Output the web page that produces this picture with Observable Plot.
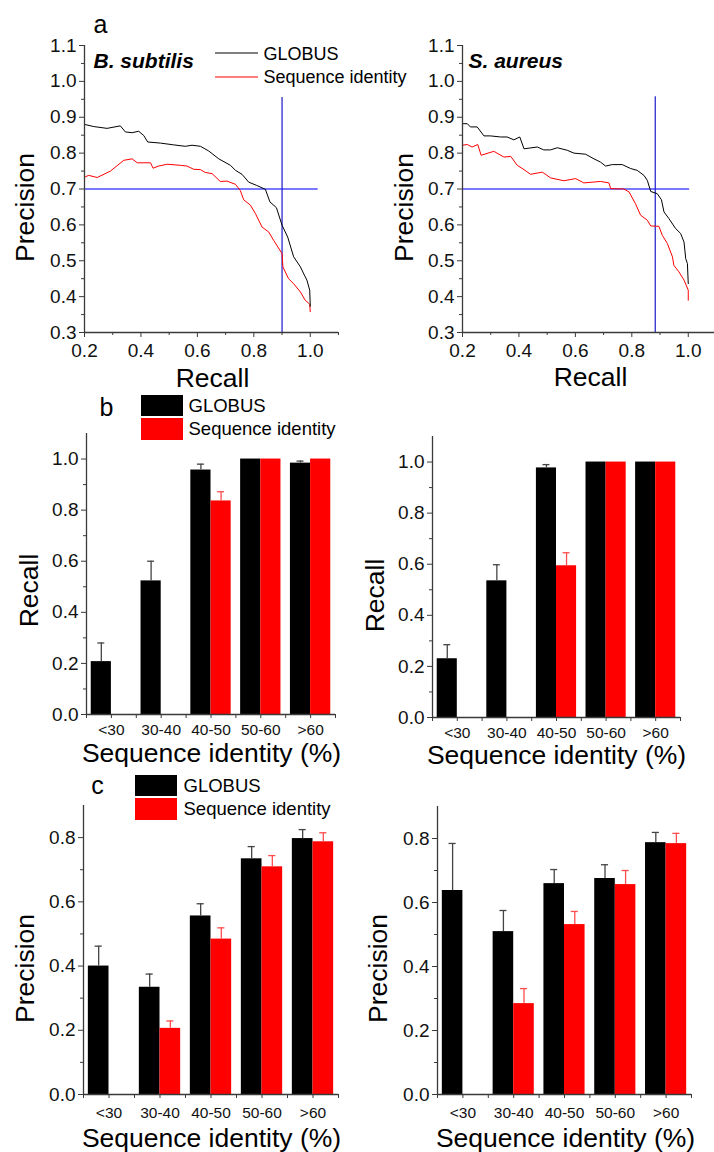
<!DOCTYPE html>
<html><head><meta charset="utf-8">
<script src="https://cdn.jsdelivr.net/npm/d3@7"></script>
<script src="https://cdn.jsdelivr.net/npm/@observablehq/plot@0.6"></script>
<style>
body{margin:0;background:#fff}
#fig{position:relative;width:714px;height:1152px;overflow:hidden;background:#fff}
</style></head><body><div id="fig"></div>
<script>
// ---------------- DATA ----------------
const categories = ["<30", "30-40", "40-50", "50-60", ">60"];
const seriesNames = ["GLOBUS", "Sequence identity"];
const organisms = ["B. subtilis", "S. aureus"];

// Panel a: precision-recall curves
const bsGlobusRecall    = [0.2,0.233,0.28,0.327,0.345,0.369,0.392,0.41,0.424,0.469,0.516,0.557,0.581,0.611,0.64,0.676,0.717,0.735,0.758,0.782,0.81,0.841,0.857,0.88,0.9,0.92,0.941,0.965,0.979,0.988,0.998,1.0];
const bsGlobusPrecision = [0.880,0.874,0.869,0.876,0.859,0.857,0.861,0.849,0.831,0.828,0.823,0.819,0.822,0.819,0.806,0.784,0.766,0.752,0.741,0.719,0.71,0.699,0.664,0.648,0.599,0.566,0.511,0.483,0.46,0.446,0.418,0.373];
const bsSeqRecall       = [0.2,0.215,0.245,0.292,0.339,0.369,0.387,0.434,0.443,0.463,0.493,0.54,0.563,0.587,0.611,0.628,0.652,0.681,0.705,0.735,0.752,0.764,0.788,0.806,0.829,0.853,0.87,0.9,0.903,0.923,0.941,0.965,0.982,0.998,1.0];
const bsSeqPrecision    = [0.733,0.738,0.732,0.75,0.78,0.784,0.773,0.773,0.758,0.764,0.769,0.766,0.764,0.755,0.754,0.746,0.743,0.721,0.722,0.713,0.696,0.67,0.655,0.631,0.594,0.58,0.557,0.52,0.483,0.45,0.436,0.413,0.39,0.379,0.358];
const saGlobusRecall    = [0.2,0.217,0.228,0.252,0.276,0.299,0.335,0.358,0.382,0.403,0.418,0.465,0.488,0.512,0.536,0.571,0.595,0.636,0.666,0.689,0.707,0.731,0.766,0.796,0.819,0.843,0.855,0.867,0.89,0.905,0.914,0.932,0.955,0.973,0.985,0.991,0.997,1.0];
const saGlobusPrecision = [0.882,0.882,0.873,0.873,0.848,0.848,0.845,0.845,0.837,0.845,0.812,0.817,0.809,0.809,0.815,0.808,0.8,0.797,0.784,0.775,0.764,0.768,0.768,0.757,0.752,0.738,0.724,0.693,0.687,0.67,0.636,0.617,0.59,0.576,0.552,0.506,0.492,0.436];
const saSeqRecall       = [0.2,0.217,0.234,0.254,0.266,0.311,0.347,0.371,0.394,0.418,0.441,0.483,0.512,0.559,0.601,0.63,0.689,0.719,0.725,0.772,0.79,0.813,0.831,0.855,0.867,0.896,0.908,0.926,0.944,0.949,0.967,0.985,1.0,1.0];
const saSeqPrecision    = [0.822,0.824,0.817,0.824,0.794,0.805,0.789,0.791,0.766,0.754,0.741,0.747,0.731,0.723,0.729,0.717,0.721,0.717,0.701,0.7,0.692,0.659,0.627,0.613,0.597,0.596,0.571,0.548,0.511,0.487,0.469,0.446,0.418,0.39];
const precisionThreshold = 0.7;
const recallAtThreshold  = [0.9, 0.883];
const thresholdRuleEnd   = [1.028, 1.005];   // recall where the horizontal guide ends
const recallRuleTop      = [0.955, 0.957];   // precision where the vertical guide ends

// Panel b: recall by sequence identity bin
const recallBsGlobus    = [0.207, 0.523, 0.957, 1.0, 0.984];
const recallBsGlobusErr = [0.073, 0.077, 0.023, 0, 0.008];
const recallBsSeq       = [null, null, 0.836, 1.0, 1.0];
const recallBsSeqErr    = [0, 0, 0.036, 0, 0];
const recallSaGlobus    = [0.23, 0.535, 0.977, 1.0, 1.0];
const recallSaGlobusErr = [0.055, 0.063, 0.013, 0, 0];
const recallSaSeq       = [null, null, 0.594, 1.0, 1.0];
const recallSaSeqErr    = [0, 0, 0.051, 0, 0];

// Panel c: precision by sequence identity bin
const precBsGlobus    = [0.40, 0.334, 0.556, 0.734, 0.797];
const precBsGlobusErr = [0.062, 0.041, 0.038, 0.038, 0.028];
const precBsSeq       = [null, 0.206, 0.484, 0.709, 0.787];
const precBsSeqErr    = [0, 0.023, 0.035, 0.035, 0.028];
const precSaGlobus    = [0.6375, 0.509, 0.659, 0.675, 0.787];
const precSaGlobusErr = [0.147, 0.066, 0.044, 0.043, 0.032];
const precSaSeq       = [null, 0.284, 0.531, 0.656, 0.784];
const precSaSeqErr    = [0, 0.047, 0.041, 0.044, 0.032];

// tick labels
const curveMajorX = [0.2, 0.4, 0.6, 0.8, 1.0];
const curveMinorX = [0.3, 0.5, 0.7, 0.9, 1.1];
const curveMajorY = [0.3, 0.4, 0.5, 0.6, 0.7, 0.8, 0.9, 1.0, 1.1];
const curveMinorY = [0.35, 0.45, 0.55, 0.65, 0.75, 0.85, 0.95, 1.05];
const recallMajorY = [0, 0.2, 0.4, 0.6, 0.8, 1.0];
const recallMinorY = [0.1, 0.3, 0.5, 0.7, 0.9];
const precMajorY = [0, 0.2, 0.4, 0.6, 0.8];
const precMinorY = [0.1, 0.3, 0.5, 0.7];
const binTicks = [1, 2, 3, 4, 5];
const binMinor = [0.5, 1.5, 2.5, 3.5, 4.5, 5.5];

// ---------------- STYLE ----------------
const FONT = '"Liberation Sans", Arial, Helvetica, sans-serif';
const AXIS = "#3a3a3a";
const RED = "#ff0000";
const W = 357;
const BAR_W = 0.405, CAP = 0.07;
const TICK_FONT = 19, BIN_FONT = 15.5;
const fig = document.getElementById("fig");
const fmt1 = d3.format(".1f");

function place(svg, left, top) {
  svg.style.position = "absolute";
  svg.style.left = left + "px";
  svg.style.top = top + "px";
  fig.appendChild(svg);
}
function lab(text, x, y, m, o = {}) {
  return Plot.text([text], {
    text: d => d,
    frameAnchor: "top-left",
    dx: x - m.left, dy: y - m.top,
    fontSize: o.size ?? 26.5,
    textAnchor: o.anchor ?? "middle",
    lineAnchor: o.line ?? "bottom",
    rotate: o.rotate ?? 0,
    fontWeight: o.weight ?? "normal",
    fontStyle: o.style ?? "normal",
    fill: "#000"
  });
}
// axis = tick marks (library axes) + tick labels (text marks on the same scales)
function yAxis(major, minor, fmt, size) {
  return [
    Plot.axisY({ticks: major, tickSize: 5, tickFormat: () => "", stroke: AXIS, label: null}),
    Plot.axisY({ticks: minor, tickSize: 3, tickFormat: () => "", stroke: AXIS, label: null}),
    Plot.text(major, {y: d => d, text: fmt, frameAnchor: "left", dx: -8, textAnchor: "end", lineAnchor: "middle", fontSize: size, fill: "#111"})
  ];
}
function xAxis(major, minor, fmt, size, gap, majorLen, minorLen) {
  return [
    Plot.axisX({ticks: major, tickSize: majorLen, tickFormat: () => "", stroke: AXIS, label: null}),
    Plot.axisX({ticks: minor, tickSize: minorLen, tickFormat: () => "", stroke: AXIS, label: null}),
    Plot.text(major, {x: d => d, text: fmt, frameAnchor: "bottom", dy: gap, lineAnchor: "top", fontSize: size, fill: "#111"})
  ];
}
function swatches(items) {
  return () => {
    const g = d3.create("svg:g");
    for (const it of items) {
      if (it.type === "line") {
        g.append("line").attr("x1", it.x1).attr("x2", it.x2).attr("y1", it.y).attr("y2", it.y)
          .attr("stroke", it.color).attr("stroke-width", 1.2);
      } else {
        g.append("rect").attr("x", it.x).attr("y", it.y).attr("width", it.w).attr("height", it.h)
          .attr("fill", it.color);
      }
    }
    return g.node();
  };
}
const svgStyle = {fontFamily: FONT, background: "transparent", overflow: "visible", color: "#000"};

// ---------------- PANEL a ----------------
function curvePanel(o) {
  const g = o.gx.map((x, k) => ({recall: x, precision: o.gy[k]}));
  const s = o.sx.map((x, k) => ({recall: x, precision: o.sy[k]}));
  const m = o.m;
  return Plot.plot({
    width: W, height: 392,
    marginTop: m.top, marginRight: m.right, marginBottom: m.bottom, marginLeft: m.left,
    style: svgStyle,
    x: {domain: o.xDomain},
    y: {domain: [0.3, 1.1]},
    marks: [
      Plot.ruleY([precisionThreshold], {x1: 0.2, x2: o.hEnd, stroke: "#4d4dff", strokeWidth: 1.6}),
      Plot.ruleX([o.vx], {y1: 0.3, y2: o.vTop, stroke: "#1a1acc", strokeWidth: 1.2}),
      Plot.line(s, {x: "recall", y: "precision", stroke: RED, strokeWidth: 1}),
      Plot.line(g, {x: "recall", y: "precision", stroke: "#000", strokeWidth: 1}),
      Plot.ruleX([0.2], {stroke: AXIS, strokeWidth: 1.3}),
      Plot.ruleY([0.3], {stroke: AXIS, strokeWidth: 1.3}),
      ...yAxis(curveMajorY, curveMinorY, fmt1, TICK_FONT),
      ...xAxis(curveMajorX, curveMinorX.filter(t => t <= o.xDomain[1]), fmt1, TICK_FONT, 11, 5, 3),
      ...o.labels(m)
    ]
  });
}

place(curvePanel({
  gx: bsGlobusRecall, gy: bsGlobusPrecision, sx: bsSeqRecall, sy: bsSeqPrecision,
  vx: recallAtThreshold[0], vTop: recallRuleTop[0], hEnd: thresholdRuleEnd[0],
  xDomain: [0.2, 1.1],
  m: {top: 45, right: 19, bottom: 60, left: 84},
  labels: m => [
    lab("a", 100, 32, m, {size: 25}),
    lab("Precision", 33, 207, m, {rotate: -90}),
    lab("Recall", 212, 386, m),
    lab(organisms[0], 93, 67, m, {size: 21, anchor: "start", weight: "bold", style: "italic"}),
    lab(seriesNames[0], 263, 53.5, m, {size: 18, anchor: "start", line: "middle"}),
    lab(seriesNames[1], 263, 77, m, {size: 18, anchor: "start", line: "middle"}),
    swatches([
      {type: "line", x1: 215, x2: 258, y: 53, color: "#000"},
      {type: "line", x1: 215, x2: 258, y: 77, color: RED}
    ])
  ]
}), 0, 0);

place(curvePanel({
  gx: saGlobusRecall, gy: saGlobusPrecision, sx: saSeqRecall, sy: saSeqPrecision,
  vx: recallAtThreshold[1], vTop: recallRuleTop[1], hEnd: thresholdRuleEnd[1],
  xDomain: [0.2, 1.093],
  m: {top: 45, right: 0, bottom: 60, left: 105},
  labels: m => [
    lab("Precision", 55, 207, m, {rotate: -90}),
    lab("Recall", 233, 385, m),
    lab(organisms[1], 111, 67, m, {size: 21, anchor: "start", weight: "bold", style: "italic"})
  ]
}), 357, 0);

// ---------------- PANELS b, c ----------------
function barPanel(o) {
  const m = o.m;
  const rows = [];
  o.globus.forEach((v, k) => { if (v != null) rows.push({i: k + 1, s: 0, v, e: o.globusErr[k]}); });
  o.seq.forEach((v, k) => { if (v != null) rows.push({i: k + 1, s: 1, v, e: o.seqErr[k]}); });
  const g = rows.filter(d => d.s === 0), s = rows.filter(d => d.s === 1);
  const cx = d => d.s === 0 ? d.i - BAR_W / 2 : d.i + BAR_W / 2;
  const ge = g.filter(d => d.e > 0), se = s.filter(d => d.e > 0);
  const errMarks = (data, color) => [
    Plot.ruleX(data, {x: cx, y1: "v", y2: d => d.v + d.e, stroke: color, strokeWidth: 1.3}),
    Plot.ruleY(data, {y: d => d.v + d.e, x1: d => cx(d) - CAP, x2: d => cx(d) + CAP, stroke: color, strokeWidth: 1.3})
  ];
  return Plot.plot({
    width: W, height: o.height,
    marginTop: m.top, marginRight: m.right, marginBottom: m.bottom, marginLeft: m.left,
    style: svgStyle,
    x: {domain: [0.5, 5.5]},
    y: {domain: [0, o.yMax]},
    marks: [
      Plot.rect(g, {x1: d => d.i - BAR_W, x2: d => d.i, y1: 0, y2: "v", fill: "#000"}),
      Plot.rect(s, {x1: d => d.i, x2: d => d.i + BAR_W, y1: 0, y2: "v", fill: RED}),
      ...errMarks(ge, "#444"),
      ...errMarks(se, "#ff4d4d"),
      Plot.ruleX([0.5], {stroke: AXIS, strokeWidth: 1.3}),
      Plot.ruleY([0], {stroke: AXIS, strokeWidth: 1.3}),
      ...yAxis(o.major, o.minor, fmt1, TICK_FONT),
      ...xAxis(binTicks, binMinor, i => categories[i - 1], BIN_FONT, o.xGap, 4, 4),
      ...o.labels(m)
    ]
  });
}

const legendBoxes = (x, y) => swatches([
  {type: "rect", x: x, y: y, w: 42, h: 21, color: "#000"},
  {type: "rect", x: x, y: y + 23, w: 42, h: 22, color: RED}
]);

// b left
place(barPanel({
  globus: recallBsGlobus, globusErr: recallBsGlobusErr, seq: recallBsSeq, seqErr: recallBsSeqErr,
  yMax: 1.1, major: recallMajorY, minor: recallMinorY, height: 372, xGap: 9,
  m: {top: 41, right: 22, bottom: 50, left: 86},
  labels: m => [
    lab("b", 106, 23, m, {size: 25}),
    legendBoxes(141, 3),
    lab(seriesNames[0], 188, 13.5, m, {size: 18.5, anchor: "start", line: "middle"}),
    lab(seriesNames[1], 188, 36.5, m, {size: 18.5, anchor: "start", line: "middle"}),
    lab("Recall", 37, 198, m, {rotate: -90}),
    lab("Sequence identity (%)", 211, 369, m)
  ]
}), 0, 392);

// b right
place(barPanel({
  globus: recallSaGlobus, globusErr: recallSaGlobusErr, seq: recallSaSeq, seqErr: recallSaSeqErr,
  yMax: 1.1, major: recallMajorY, minor: recallMinorY, height: 372, xGap: 9,
  m: {top: 44, right: 34, bottom: 47, left: 75},
  labels: m => [
    lab("Recall", 26, 203, m, {rotate: -90}),
    lab("Sequence identity (%)", 199, 371, m)
  ]
}), 357, 392);

// c left
place(barPanel({
  globus: precBsGlobus, globusErr: precBsGlobusErr, seq: precBsSeq, seqErr: precBsSeqErr,
  yMax: 0.9, major: precMajorY, minor: precMinorY, height: 388, xGap: 12,
  m: {top: 41, right: 19, bottom: 58, left: 83},
  labels: m => [
    lab("c", 97, 29, m, {size: 25}),
    legendBoxes(135, 11),
    lab(seriesNames[0], 183, 21.5, m, {size: 18.5, anchor: "start", line: "middle"}),
    lab(seriesNames[1], 183, 45, m, {size: 18.5, anchor: "start", line: "middle"}),
    lab("Precision", 33, 204, m, {rotate: -90}),
    lab("Sequence identity (%)", 211, 382, m)
  ]
}), 0, 764);

// c right
place(barPanel({
  globus: precSaGlobus, globusErr: precSaGlobusErr, seq: precSaSeq, seqErr: precSaSeqErr,
  yMax: 0.9, major: precMajorY, minor: precMinorY, height: 388, xGap: 12,
  m: {top: 42, right: 23, bottom: 58, left: 80},
  labels: m => [
    lab("Precision", 29, 204, m, {rotate: -90}),
    lab("Sequence identity (%)", 208, 382, m)
  ]
}), 357, 764);
</script></body></html>
